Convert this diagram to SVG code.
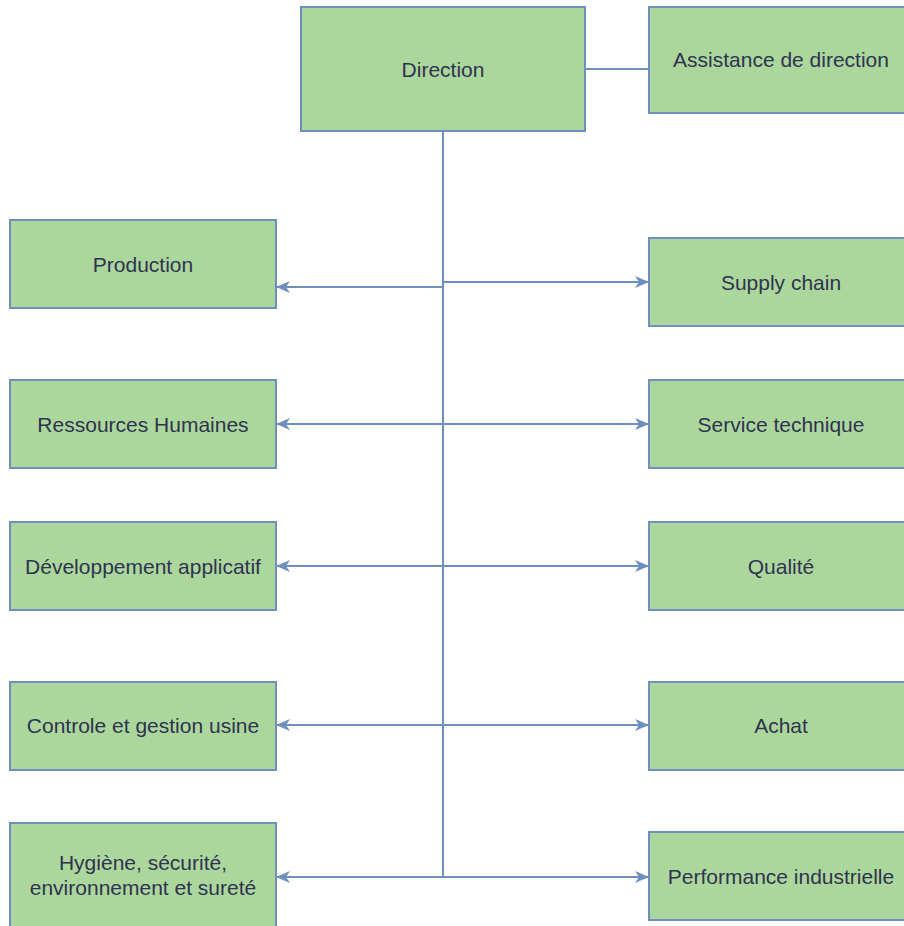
<svg xmlns="http://www.w3.org/2000/svg" width="904" height="926" viewBox="0 0 904 926">
  <style>
    .box { fill: #acd79c; stroke: #6f8fbf; stroke-width: 2; }
    .lbl { font-family: "Liberation Sans", Arial, sans-serif; font-size: 21px; fill: #2f3350; text-anchor: middle; dominant-baseline: central; }
    .edge { fill: none; stroke: #6f8fbf; stroke-width: 2; }
  </style>
  <defs>
    <marker id="arrow" viewBox="0 0 14 12" refX="13" refY="6" markerWidth="14" markerHeight="12" markerUnits="userSpaceOnUse" orient="auto">
      <path d="M0,0 L14,6 L0,12 L4,6 Z" fill="#6f8fbf"/>
    </marker>
  </defs>
  <rect width="904" height="926" fill="#ffffff"/>

  <g id="connectors">
    <path class="edge" d="M585,69 H649"/>
    <path class="edge" d="M443,131 V877"/>
    <path class="edge" d="M443,287 H277" marker-end="url(#arrow)"/>
    <path class="edge" d="M443,282 H648" marker-end="url(#arrow)"/>
    <path class="edge" d="M443,424 H277" marker-end="url(#arrow)"/>
    <path class="edge" d="M443,424 H648" marker-end="url(#arrow)"/>
    <path class="edge" d="M443,566 H277" marker-end="url(#arrow)"/>
    <path class="edge" d="M443,566 H648" marker-end="url(#arrow)"/>
    <path class="edge" d="M443,725 H277" marker-end="url(#arrow)"/>
    <path class="edge" d="M443,725 H648" marker-end="url(#arrow)"/>
    <path class="edge" d="M443,877 H277" marker-end="url(#arrow)"/>
    <path class="edge" d="M443,877 H648" marker-end="url(#arrow)"/>
  </g>

  <g id="direction">
    <rect class="box" x="301" y="7" width="284" height="124"/>
    <text class="lbl" x="443" y="69">Direction</text>
  </g>
  <g id="assistance">
    <rect class="box" x="649" y="7" width="266" height="106"/>
    <text class="lbl" x="781" y="59">Assistance de direction</text>
  </g>

  <g id="production">
    <rect class="box" x="10" y="220" width="266" height="88"/>
    <text class="lbl" x="143" y="264">Production</text>
  </g>
  <g id="supply-chain">
    <rect class="box" x="649" y="238" width="266" height="88"/>
    <text class="lbl" x="781" y="282">Supply chain</text>
  </g>

  <g id="rh">
    <rect class="box" x="10" y="380" width="266" height="88"/>
    <text class="lbl" x="143" y="424">Ressources Humaines</text>
  </g>
  <g id="service-technique">
    <rect class="box" x="649" y="380" width="266" height="88"/>
    <text class="lbl" x="781" y="424">Service technique</text>
  </g>

  <g id="dev-applicatif">
    <rect class="box" x="10" y="522" width="266" height="88"/>
    <text class="lbl" x="143" y="566">Développement applicatif</text>
  </g>
  <g id="qualite">
    <rect class="box" x="649" y="522" width="266" height="88"/>
    <text class="lbl" x="781" y="566">Qualité</text>
  </g>

  <g id="controle">
    <rect class="box" x="10" y="682" width="266" height="88"/>
    <text class="lbl" x="143" y="725">Controle et gestion usine</text>
  </g>
  <g id="achat">
    <rect class="box" x="649" y="682" width="266" height="88"/>
    <text class="lbl" x="781" y="725">Achat</text>
  </g>

  <g id="hse">
    <rect class="box" x="10" y="823" width="266" height="106"/>
    <text class="lbl" x="143" y="862">Hygiène, sécurité,</text>
    <text class="lbl" x="143" y="887">environnement et sureté</text>
  </g>
  <g id="performance">
    <rect class="box" x="649" y="832" width="266" height="88"/>
    <text class="lbl" x="781" y="876">Performance industrielle</text>
  </g>
</svg>
